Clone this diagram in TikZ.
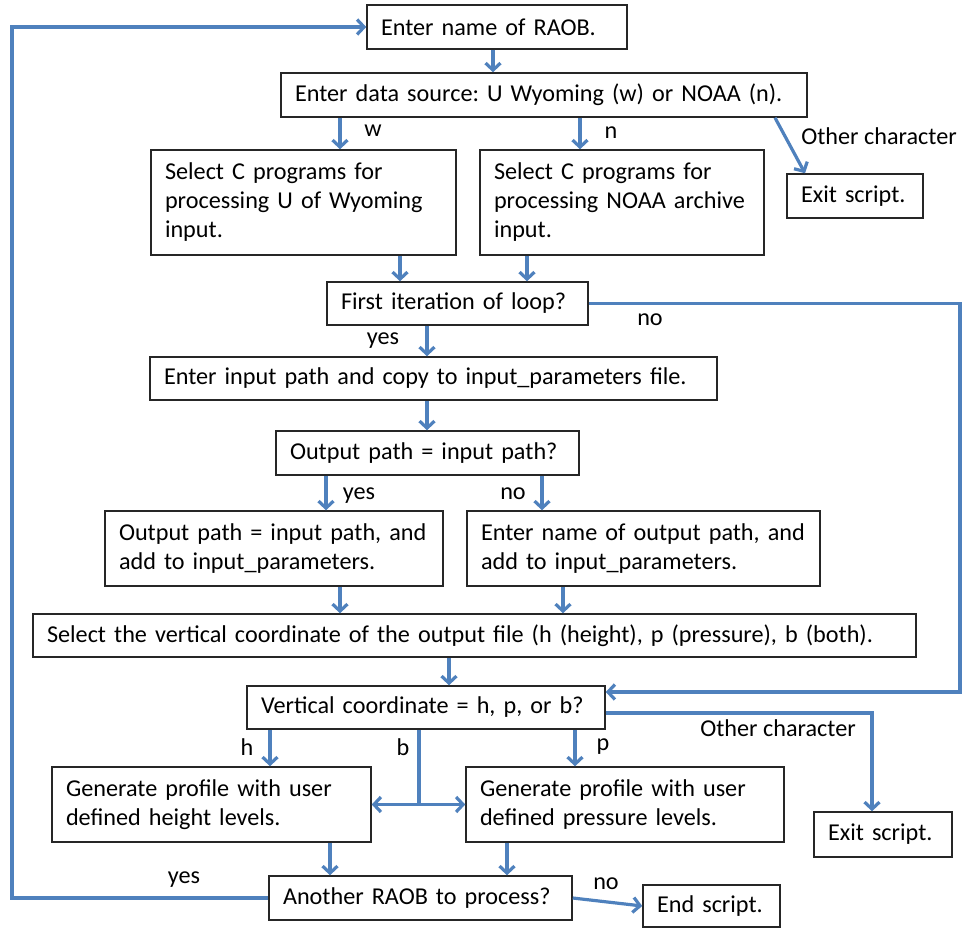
\documentclass[tikz,border=0pt]{standalone}
\usepackage{fontspec}
\setmainfont{Carlito}
\usetikzlibrary{arrows.meta}
\definecolor{flowblue}{HTML}{4F81BD}
\frenchspacing
\begin{document}
\begin{tikzpicture}[x=1pt,y=-1pt,
 box/.style={draw=black!85, line width=1.5pt, inner xsep=14pt, inner ysep=0pt, align=left, font=\fontsize{24.2}{29}\selectfont, anchor=center},
 lbl/.style={font=\fontsize{24.2}{29}\selectfont, inner sep=0pt},
 arr/.style={draw=flowblue, line width=3.2pt, -{Straight Barb[length=7pt,width=15pt]}},
 ln/.style={draw=flowblue, line width=3.2pt}]
\useasboundingbox (0,0) rectangle (963,928);
% boxes
\node[box,minimum width=260pt,minimum height=44pt,text width=232pt] (raob) at (497,27) {Enter name of RAOB.};
\node[box,minimum width=526pt,minimum height=44pt,text width=498pt] (src) at (544,95) {Enter data source: U Wyoming (w) or NOAA (n).};
\node[box,minimum width=305pt,minimum height=105pt,text width=277pt] (wy) at (303.5,202.5) {Select C programs for\\processing U of Wyoming\\input.};
\node[box,minimum width=284pt,minimum height=105pt,text width=256pt] (noaa) at (622,202.5) {Select C programs for\\processing NOAA archive\\input.};
\node[box,minimum width=136pt,minimum height=44pt,text width=108pt] (exit1) at (855,196) {Exit script.};
\node[box,minimum width=261pt,minimum height=43pt,text width=233pt] (first) at (457.5,303.5) {First iteration of loop?};
\node[box,minimum width=567pt,minimum height=43pt,text width=539pt] (inpath) at (433.5,378.5) {Enter input path and copy to input\_parameters file.};
\node[box,minimum width=303pt,minimum height=44pt,text width=275pt] (outq) at (427.5,453) {Output path = input path?};
\node[box,minimum width=338pt,minimum height=75pt,text width=310pt] (outyes) at (274,548.5) {Output path = input path, and\\add to input\_parameters.};
\node[box,minimum width=353pt,minimum height=75pt,text width=325pt] (outno) at (643.5,548.5) {Enter name of output path, and\\add to input\_parameters.};
\node[box,minimum width=883pt,minimum height=43pt,text width=855pt] (selvert) at (474.5,635.5) {Select the vertical coordinate of the output file (h (height), p (pressure), b (both).};
\node[box,minimum width=358pt,minimum height=43pt,text width=330pt] (vert) at (426,707.5) {Vertical coordinate = h, p, or b?};
\node[box,minimum width=319pt,minimum height=75pt,text width=291pt] (genh) at (211.5,804.5) {Generate profile with user\\defined height levels.};
\node[box,minimum width=318pt,minimum height=75pt,text width=290pt] (genp) at (625,804.5) {Generate profile with user\\defined pressure levels.};
\node[box,minimum width=138pt,minimum height=45pt,text width=110pt] (exit2) at (883,834.5) {Exit script.};
\node[box,minimum width=303pt,minimum height=44pt,text width=275pt] (another) at (420.5,898) {Another RAOB to process?};
\node[box,minimum width=137pt,minimum height=42pt,text width=109pt] (endscr) at (711.5,906) {End script.};
% labels
\node[lbl] (lw) at (373,131) {w};
\node[lbl] (ln) at (611,133) {n};
\node[lbl] (loc1) at (879,136) {Other character};
\node[lbl] (lno1) at (650,320) {no};
\node[lbl] (lyes1) at (383,341) {yes};
\node[lbl] (lyes2) at (359,496) {yes};
\node[lbl] (lno2) at (513,494) {no};
\node[lbl] (lh) at (247,747) {h};
\node[lbl] (lb) at (403,747) {b};
\node[lbl] (lp) at (603,747) {p};
\node[lbl] (loc2) at (778,728) {Other character};
\node[lbl] (lyes3) at (184,880) {yes};
\node[lbl] (lno3) at (606,884) {no};
% connectors
\draw[arr] (493,0 |- raob.south) -- (493,0 |- src.north);
\draw[arr] (340,0 |- src.south) -- (340,0 |- wy.north);
\draw[arr] (580,0 |- src.south) -- (580,0 |- noaa.north);
\draw[arr] (775,0 |- src.south) -- (805,0 |- exit1.north);
\draw[arr] (400,0 |- wy.south) -- (400,0 |- first.north);
\draw[arr] (527,0 |- noaa.south) -- (527,0 |- first.north);
\draw[arr] (first.east) -| (960,692) -- ([yshift=15.5pt]vert.east);
\draw[arr] (427,0 |- first.south) -- (427,0 |- inpath.north);
\draw[arr] (427,0 |- inpath.south) -- (427,0 |- outq.north);
\draw[arr] (326,0 |- outq.south) -- (326,0 |- outyes.north);
\draw[arr] (542,0 |- outq.south) -- (542,0 |- outno.north);
\draw[arr] (340,0 |- outyes.south) -- (340,0 |- selvert.north);
\draw[arr] (563,0 |- outno.south) -- (563,0 |- selvert.north);
\draw[arr] (449,0 |- selvert.south) -- (449,0 |- vert.north);
\draw[arr] (270,0 |- vert.south) -- (270,0 |- genh.north);
\draw[arr] (575,0 |- vert.south) -- (575,0 |- genp.north);
\coordinate (bj) at (419,804.5);
\draw[ln] (419,0 |- vert.south) -- (bj);
\draw[arr] (bj) -- (genh.east);
\draw[arr] (bj) -- (genp.west);
\draw[arr] ([yshift=-5.5pt]vert.east) -| (872,0 |- exit2.north);
\draw[arr] (330,0 |- genh.south) -- (330,0 |- another.north);
\draw[arr] (507,0 |- genp.south) -- (507,0 |- another.north);
\draw[arr] (another.west) -- (12,0 |- another.west) |- (raob.west);
\draw[arr] (another.east) -- (endscr.west);
\end{tikzpicture}
\end{document}
